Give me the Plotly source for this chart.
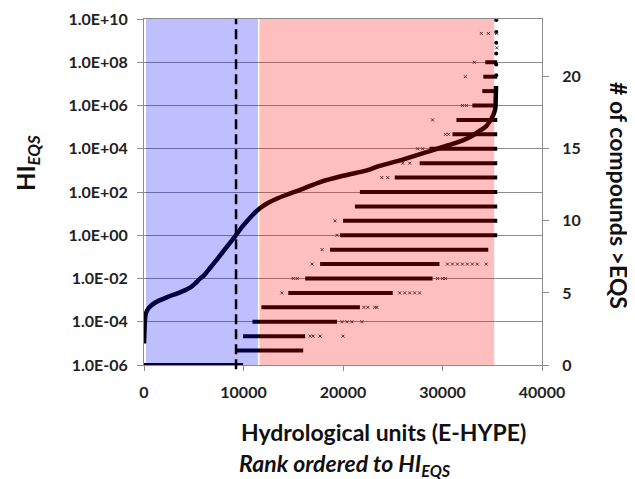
import plotly.graph_objects as go

# ---- data ----
curve_rank = [0, 50, 100, 200, 500, 1100, 2400, 3300, 4100, 4700, 5100, 5600, 6100, 6700,
              7400, 8300, 9150, 9800, 10450, 11000, 11650, 12500, 13500, 14500, 15700,
              17700, 20000, 22400, 23600, 26000, 28800, 30500, 32100, 33000, 33800, 34400,
              34800, 35100, 35300, 35350, 35380]
curve_log = [-5.0, -4.4, -3.9, -3.6, -3.35, -3.12, -2.85, -2.7, -2.55, -2.4, -2.25, -2.02, -1.82,
             -1.48, -1.08, -0.55, -0.05, 0.35, 0.7, 0.98, 1.25, 1.5, 1.72, 1.9, 2.1,
             2.46, 2.75, 3.0, 3.2, 3.5, 3.9, 4.15, 4.4, 4.6, 4.85, 5.05,
             5.3, 5.55, 5.85, 6.4, 6.9]
tail_rank = [35400, 35400, 35400, 35400, 35400, 35400]
tail_log = [7.4, 7.9, 8.4, 8.9, 9.4, 9.95]

counts = list(range(22))
bar_start = [0, 9250, 9950, 10900, 11800, 14500, 16200, 17700, 18700, 19700, 20000,
             21200, 21700, 25200, 27700, 28700, 31000, 31400, 33000, 34000, 34100, 34300]
bar_end = [9950, 16000, 16200, 19400, 21700, 25000, 29000, 29700, 34600, 35500, 35500,
           35500, 35500, 35500, 35500, 35500, 35500, 35500, 35500, 35500, 35500, 35500]

cross_rank = [16700, 17000, 17700, 20000,
              19900, 20400, 20900, 21900,
              22100, 22500, 23200, 23400,
              13850, 25700, 26200, 26700, 27200, 27700,
              15000, 15400, 29500, 30000, 30300,
              16900, 30500, 31000, 31500, 32000, 32500, 33000, 33500, 34400,
              17900, 19400, 19200,
              23900, 24500, 26000, 26700, 27500, 28000, 30300, 30600, 29000,
              32000, 32400, 32300, 33200, 33900, 34600,
              35450, 35450, 35450]
cross_count = [2, 2, 2, 2,
               3, 3, 3, 3,
               4, 4, 4, 4,
               5, 5, 5, 5, 5, 5,
               6, 6, 6, 6, 6,
               7, 7, 7, 7, 7, 7, 7, 7, 7,
               8, 9, 10,
               13, 13, 14, 14, 15, 15, 16, 16, 17,
               18, 18, 20, 21, 23, 23,
               22, 23, 24]

left_tickvals = [1e-6, 1e-4, 1e-2, 1e0, 1e2, 1e4, 1e6, 1e8, 1e10]
left_ticktext = ["1.0E-06", "1.0E-04", "1.0E-02", "1.0E+00", "1.0E+02",
                 "1.0E+04", "1.0E+06", "1.0E+08", "1.0E+10"]
x_ticks = [0, 10000, 20000, 30000, 40000]
right_ticks = [0, 5, 10, 15, 20]

blue_zone = [200, 11450]
red_zone = [11600, 35200]
threshold_rank = 9250

FONT = "Lato"
DARK = "#000000"
GRID = "#8c8c8c"

# figure is placed inside the page body (8px default margin)
W, H = 635, 479
L, R, T, B = 136, 101, 11, 122
PW, PH = W - L - R, H - T - B

fig = go.Figure()

# bars (# compounds > EQS) on right axis
bx, by = [], []
for k, s, e in zip(counts, bar_start, bar_end):
    bx += [s, e, None]
    by += [k, k, None]
fig.add_trace(go.Scatter(x=bx, y=by, mode="lines", yaxis="y2",
                         line=dict(color=DARK, width=4), showlegend=False))
fig.add_trace(go.Scatter(x=cross_rank, y=cross_count, mode="markers", yaxis="y2",
                         marker=dict(symbol="x-thin", size=3, color=DARK,
                                     line=dict(width=1, color="#333333")),
                         showlegend=False))

# HI curve
fig.add_trace(go.Scatter(x=curve_rank, y=[10 ** v for v in curve_log], mode="lines",
                         line=dict(color=DARK, width=4.5, shape="spline", smoothing=0.8),
                         showlegend=False))
fig.add_trace(go.Scatter(x=tail_rank, y=[10 ** v for v in tail_log], mode="markers",
                         marker=dict(size=4, color=DARK), showlegend=False))

# shaded zones (drawn over the data, semi-transparent)
fig.add_shape(type="rect", xref="x", yref="paper", x0=blue_zone[0], x1=blue_zone[1],
              y0=0, y1=1, fillcolor="rgba(0,0,255,0.25)", line=dict(width=0), layer="above")
fig.add_shape(type="rect", xref="x", yref="paper", x0=red_zone[0], x1=red_zone[1],
              y0=0, y1=1, fillcolor="rgba(255,0,0,0.25)", line=dict(width=0), layer="above")
fig.add_shape(type="line", xref="x", yref="paper", x0=threshold_rank, x1=threshold_rank,
              y0=-0.012, y1=1, line=dict(color="black", width=2.5, dash="10px,5px"),
              layer="above")

tickfont = dict(family=FONT, size=16, color="#222222", weight="bold")

fig.update_layout(
    width=W, height=H,
    margin=dict(l=L, r=R, t=T, b=B, autoexpand=False),
    paper_bgcolor="white", plot_bgcolor="white",
    xaxis=dict(range=[0, 40000], tickvals=x_ticks, ticktext=[str(v) for v in x_ticks],
               showgrid=False, zeroline=False, showline=True, linecolor=GRID, mirror=True,
               ticks="outside", ticklen=5, tickcolor=GRID, tickfont=tickfont,
               ticklabelstandoff=8, automargin=False),
    yaxis=dict(type="log", range=[-6, 10], tickvals=left_tickvals, ticktext=left_ticktext,
               showgrid=True, gridcolor=GRID, gridwidth=1, zeroline=False,
               showline=True, linecolor=GRID, ticks="outside", ticklen=6, tickcolor=GRID,
               tickfont=tickfont, ticklabelstandoff=6, automargin=False),
    yaxis2=dict(overlaying="y", side="right", range=[0, 24], tickvals=right_ticks,
                showgrid=False, zeroline=False, showline=True, linecolor=GRID,
                ticks="outside", ticklen=6, tickcolor=GRID, tickfont=tickfont,
                ticklabelstandoff=10, automargin=False),
    showlegend=False,
)

# helpers: page pixel -> paper coords (page = figure offset by 8px body margin)
def px_x(p):
    return (p - 8 - L) / PW

def px_y(p):
    return (H - B - (p - 8)) / PH

fig.add_annotation(text="HI<sub><i>EQS</i></sub>", xref="paper", yref="paper",
                   x=px_x(27), y=px_y(163), textangle=-90, showarrow=False,
                   xanchor="center", yanchor="middle",
                   font=dict(family=FONT, size=24, color="#111111", weight="bold"))
fig.add_annotation(text="# of compounds >EQS", xref="paper", yref="paper",
                   x=px_x(619), y=px_y(195), textangle=90, showarrow=False,
                   xanchor="center", yanchor="middle",
                   font=dict(family=FONT, size=23, color="#111111", weight="bold"))
fig.add_annotation(text="Hydrological units (E-HYPE)", xref="paper", yref="paper",
                   x=px_x(383), y=px_y(432), showarrow=False,
                   xanchor="center", yanchor="middle",
                   font=dict(family=FONT, size=23, color="#111111", weight="bold"))
fig.add_annotation(text="<i>Rank ordered to HI<sub>EQS</sub></i>", xref="paper", yref="paper",
                   x=px_x(237), y=px_y(464), xanchor="left", yanchor="middle",
                   showarrow=False,
                   font=dict(family=FONT, size=23, color="#111111", weight="bold"))

fig.write_html("out.html")
